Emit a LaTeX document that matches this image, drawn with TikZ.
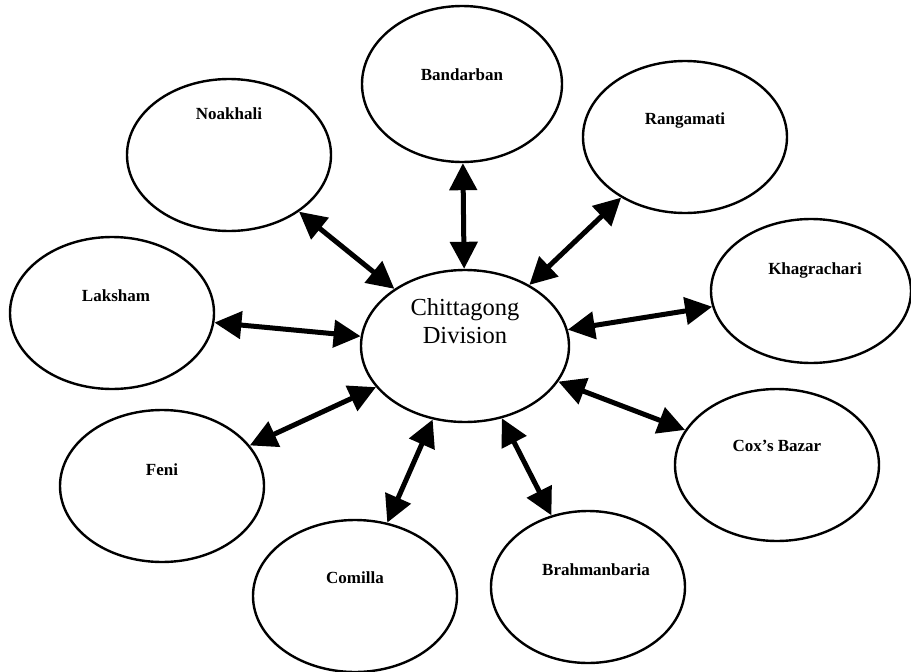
\documentclass[tikz,border=0pt]{standalone}
\usepackage{fontspec}
\setmainfont{Liberation Serif}
\usetikzlibrary{shapes.geometric, arrows.meta}
\tikzset{
    base/.style = {draw=black, line width=2.4pt, ellipse, inner sep=0pt},
    % Nodes
    district/.style = {base, minimum width=204pt, minimum height=152pt},
    hub/.style      = {base, minimum width=208pt, minimum height=152pt},
    tag/.style      = {font=\fontsize{17}{20}\selectfont\bfseries},
    hubtag/.style   = {font=\fontsize{24.5}{28}\selectfont, align=center},
    % Edges
    arrow/.style = {line width=5pt, {Triangle[length=27pt, width=27pt]}-{Triangle[length=27pt, width=27pt]}}
}

\begin{document}
\begin{tikzpicture}[x=1pt, y=-1pt]
    \useasboundingbox (0,0) rectangle (911,672);

    \node (division) [hub, label={[hubtag, yshift=25pt]center:Chittagong\\Division}] at (465,346) {};

    \node (bandarban) [district, minimum width=200pt, minimum height=156pt, label={[tag, yshift=9pt]center:Bandarban}] at (462,84) {};
    \node (noakhali) [district, label={[tag, yshift=41pt]center:Noakhali}] at (229,155) {};
    \node (rangamati) [district, label={[tag, yshift=17pt]center:Rangamati}] at (685,137) {};
    \node (khagrachari) [district, minimum width=200pt, minimum height=144pt, label={[tag, yshift=21pt, xshift=4pt]center:Khagrachari}] at (811,291) {};
    \node (laksham) [district, label={[tag, yshift=17pt, xshift=4pt]center:Laksham}] at (112,313) {};
    \node (feni) [district, label={[tag, yshift=16pt]center:Feni}] at (162,486) {};
    \node (comilla) [district, label={[tag, yshift=18pt]center:Comilla}] at (355,596) {};
    \node (brahmanbaria) [district, minimum width=194pt, label={[tag, yshift=17pt, xshift=8pt]center:Brahmanbaria}] at (588,587) {};
    \node (coxsbazar) [district, label={[tag, yshift=19pt]center:Cox's Bazar}] at (777,465) {};

    % Two-way links to the division
    \foreach \d in {bandarban, noakhali, rangamati, khagrachari, laksham, feni, comilla, brahmanbaria, coxsbazar}
        \draw [arrow] (\d) -- (division);
\end{tikzpicture}
\end{document}
